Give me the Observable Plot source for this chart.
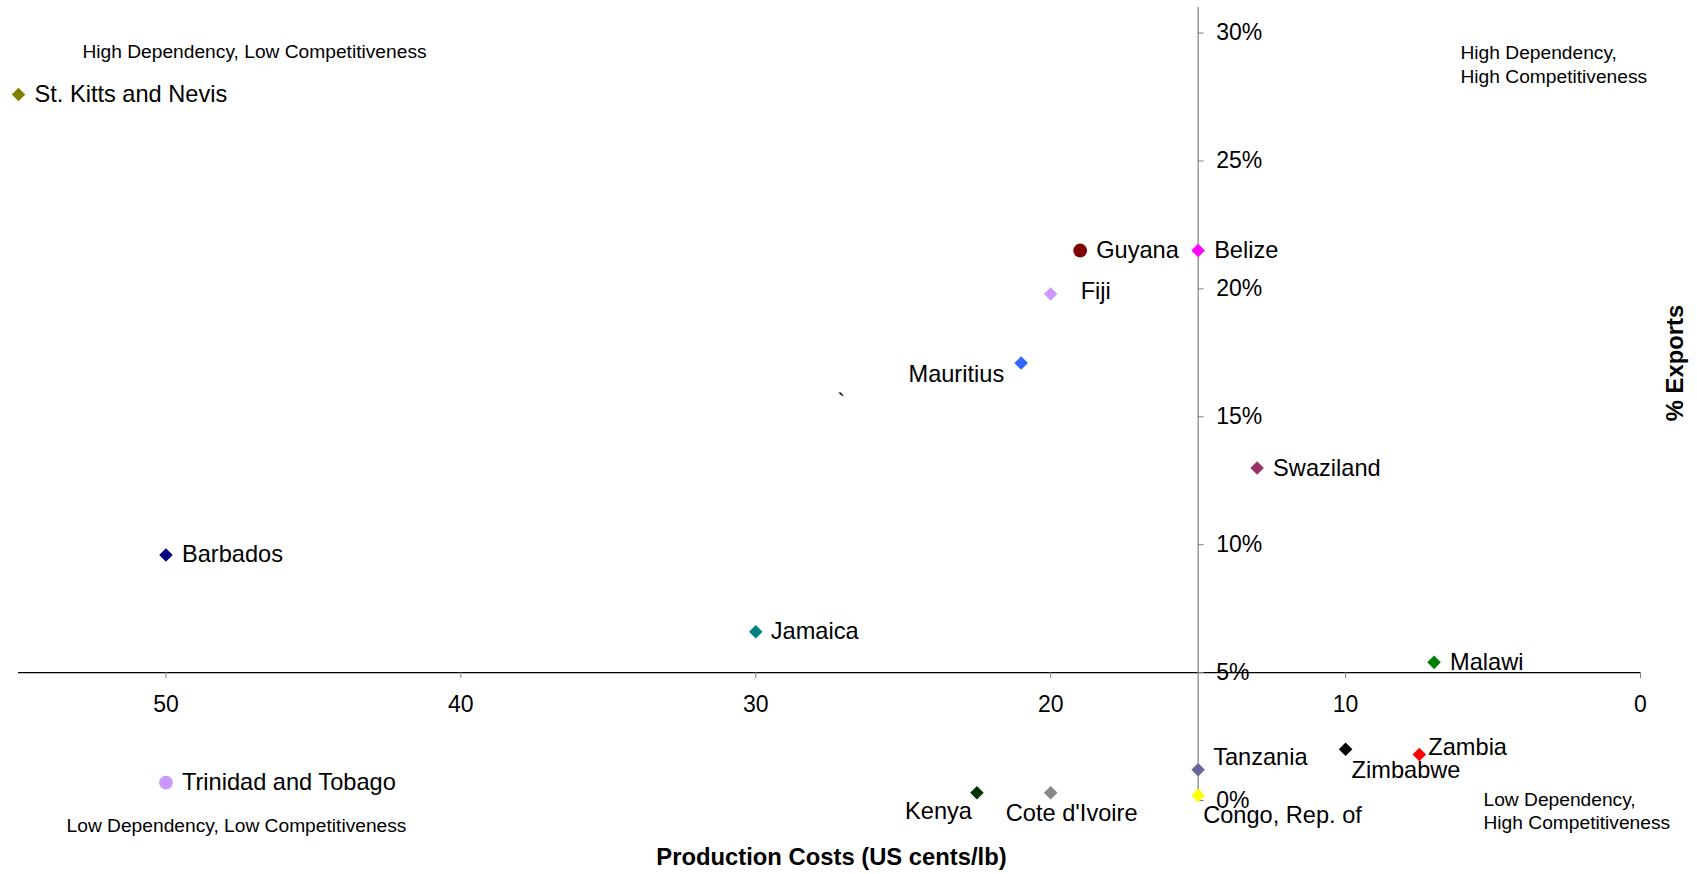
<!DOCTYPE html>
<html>
<head>
<meta charset="utf-8">
<script src="https://cdn.jsdelivr.net/npm/d3@7"></script>
<script src="https://cdn.jsdelivr.net/npm/@observablehq/plot@0.6"></script>
<style>
  html, body { margin: 0; padding: 0; background: #fff; }
  #chart svg { display: block; }
</style>
</head>
<body>
<div id="chart"></div>
<script>
// Sugar producers: production cost vs. share of exports
const countries = [
  "St. Kitts and Nevis", "Guyana", "Belize", "Fiji", "Mauritius", "Swaziland",
  "Barbados", "Jamaica", "Malawi", "Trinidad and Tobago", "Kenya", "Cote d'Ivoire",
  "Tanzania", "Congo, Rep. of", "Zimbabwe", "Zambia"
];
// US cents per lb
const productionCosts = [55, 19, 15, 20, 21, 13, 50, 30, 7, 50, 22.5, 20, 15, 15, 10, 7.5];
// % of exports
const exportShares = [27.6, 21.5, 21.5, 19.8, 17.1, 13.0, 9.6, 6.6, 5.4, 0.7, 0.3, 0.3, 1.2, 0.2, 2.0, 1.8];

const markerColors = [
  "#808000", "#800000", "#FF00FF", "#CC99FF", "#3366FF", "#993366",
  "#000080", "#008080", "#008000", "#CC99FF", "#003300", "#888888",
  "#666699", "#FFFF00", "#000000", "#FF0000"
];
const markerShapes = [
  "diamond", "circle", "diamond", "diamond", "diamond", "diamond",
  "diamond", "diamond", "diamond", "circle", "diamond", "diamond",
  "diamond", "diamond", "diamond", "diamond"
];

const xTicks = [50, 40, 30, 20, 10, 0];
const yTicks = [0, 5, 10, 15, 20, 25, 30];
const xCross = 15; // vertical axis crosses at 15 cents/lb
const yCross = 5;  // horizontal axis crosses at 5 %

const strayMarks = [{text: "`", x: 27.1, y: 15.55}];

// where each country's name sits relative to its marker: [anchor, dx, dy]
const labelPlacement = {
  "St. Kitts and Nevis": ["start", 16, 0],
  "Guyana": ["start", 16, 0],
  "Belize": ["start", 16, 0],
  "Fiji": ["start", 30, -3],
  "Mauritius": ["end", -17, 11],
  "Swaziland": ["start", 16, 0],
  "Barbados": ["start", 16, 0],
  "Jamaica": ["start", 15, 0],
  "Malawi": ["start", 16, 0],
  "Trinidad and Tobago": ["start", 16, 0],
  "Kenya": ["end", -5, 19],
  "Cote d'Ivoire": ["middle", 21, 21],
  "Tanzania": ["start", 15, -12],
  "Congo, Rep. of": ["start", 5, 20],
  "Zimbabwe": ["start", 6, 21],
  "Zambia": ["start", 9, -7]
};

const rows = countries.map((name, i) => ({
  name,
  cost: productionCosts[i],
  share: exportShares[i],
  color: markerColors[i],
  shape: markerShapes[i]
}));

const font = "'Liberation Sans', Arial, Helvetica, sans-serif";
const labelSize = 23.6;
const tickSize = 23;
const titleSize = 23.8;
const noteSize = 19.2;

const labelMarks = rows.map(r => {
  const [anchor, dx, dy] = labelPlacement[r.name];
  return Plot.text([r], {
    x: "cost", y: "share", text: "name",
    textAnchor: anchor, dx, dy, fontSize: labelSize, fill: "#000"
  });
});

// quadrant captions, placed relative to the top-left corner of the frame
const quadrantMarks = [
  Plot.text(["High Dependency, Low Competitiveness"], {
    frameAnchor: "top-left", textAnchor: "middle", lineAnchor: "middle", dx: 236, dy: 44,
    fontSize: noteSize, fill: "#000"
  }),
  Plot.text(["High Dependency,\nHigh Competitiveness"], {
    frameAnchor: "top-left", textAnchor: "start", lineAnchor: "middle", dx: 1442, dy: 56,
    lineHeight: 1.22, fontSize: noteSize, fill: "#000"
  }),
  Plot.text(["Low Dependency, Low Competitiveness"], {
    frameAnchor: "top-left", textAnchor: "middle", lineAnchor: "middle", dx: 218, dy: 818,
    fontSize: noteSize, fill: "#000"
  }),
  Plot.text(["Low Dependency,\nHigh Competitiveness"], {
    frameAnchor: "top-left", textAnchor: "start", lineAnchor: "middle", dx: 1465, dy: 803,
    lineHeight: 1.18, fontSize: noteSize, fill: "#000"
  })
];

const chart = Plot.plot({
  width: 1697,
  height: 874,
  marginLeft: 18,
  marginRight: 57,
  marginTop: 7,
  marginBottom: 74,
  x: {domain: [55, 0], axis: null},
  y: {domain: [0, 31], axis: null},
  color: {type: "identity"},
  style: {fontFamily: font, background: "#fff", color: "#000", overflow: "visible"},
  marks: [
    // horizontal axis at 5 %
    Plot.ruleY([yCross], {stroke: "#000", strokeWidth: 1.2}),
    Plot.ruleX(xTicks, {x: d => d, y1: yCross, y2: yCross, insetBottom: -6, stroke: "#808080"}),
    Plot.text(xTicks, {x: d => d, y: yCross, dy: 32, text: d => String(d), fontSize: tickSize, fill: "#000"}),
    // vertical axis at 15 cents/lb
    Plot.ruleX([xCross], {y1: 0, y2: 31, stroke: "#808080", strokeWidth: 1.2}),
    Plot.ruleY(yTicks, {y: d => d, x1: xCross, x2: xCross, insetRight: -6, stroke: "#808080"}),
    Plot.text(yTicks, {x: xCross, y: d => d, dx: 18, textAnchor: "start", text: d => `${d}%`, fontSize: tickSize, fill: "#000"}),
    // axis titles
    Plot.text(["Production Costs (US cents/lb)"], {
      frameAnchor: "bottom", lineAnchor: "middle", dx: 2, dy: 57,
      fontSize: titleSize, fontWeight: "bold", fill: "#000"
    }),
    Plot.text(["% Exports"], {
      frameAnchor: "right", textAnchor: "middle", lineAnchor: "middle", dx: 35, dy: -41, rotate: -90,
      fontSize: titleSize, fontWeight: "bold", fill: "#000"
    }),
    ...quadrantMarks,
    Plot.text(strayMarks, {x: "x", y: "y", text: "text", fontSize: labelSize, fill: "#000"}),
    // country markers
    Plot.dot(rows.filter(d => d.shape === "diamond"), {
      x: "cost", y: "share", symbol: "diamond2", r: 6.1, fill: "color"
    }),
    Plot.dot(rows.filter(d => d.shape === "circle"), {
      x: "cost", y: "share", symbol: "circle", r: 6.9, fill: "color"
    }),
    ...labelMarks
  ]
});

document.getElementById("chart").append(chart);
</script>
</body>
</html>
